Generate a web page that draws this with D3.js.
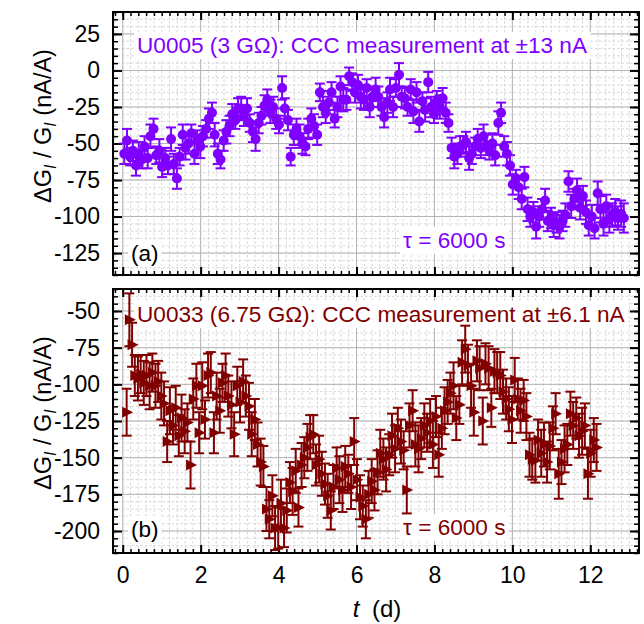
<!DOCTYPE html>
<html>
<head>
<meta charset="utf-8">
<title>CCC drift</title>
<script src="https://d3js.org/d3.v7.min.js"></script>
<style>
  body { margin: 0; background: #fff; }
  svg text { font-family: "Liberation Sans", Arial, sans-serif; }
  .grid-major { stroke: #b4b4b4; stroke-width: 1; }
  .grid-minor { stroke: #d6d6d6; stroke-width: 1; stroke-dasharray: 2.5,2; }
  .frame { fill: none; stroke: #000; stroke-width: 2; }
</style>
</head>
<body>
<script>
// panel (a): U0005
var tA = [0.04, 0.11, 0.19, 0.26, 0.34, 0.41, 0.49, 0.56, 0.64, 0.71,
  0.79, 0.86, 0.94, 1.01, 1.09, 1.16, 1.24, 1.31, 1.39, 1.46,
  1.54, 1.61, 1.69, 1.76, 1.84, 1.91, 1.99, 2.06, 2.14, 2.21,
  2.29, 2.36, 2.44, 2.51, 2.59, 2.66, 2.74, 2.81, 2.89, 2.96,
  3.04, 3.11, 3.19, 3.26, 3.34, 3.41, 3.49, 3.56, 3.64, 3.71,
  3.79, 3.86, 3.94, 4.01, 4.09, 4.16, 4.24, 4.31, 4.39, 4.46,
  4.54, 4.61, 4.69, 4.76, 4.84, 4.91, 4.99, 5.06, 5.14, 5.21,
  5.29, 5.36, 5.44, 5.51, 5.59, 5.66, 5.74, 5.81, 5.89, 5.96,
  6.04, 6.11, 6.19, 6.26, 6.34, 6.41, 6.49, 6.56, 6.64, 6.71,
  6.79, 6.86, 6.94, 7.01, 7.09, 7.16, 7.24, 7.31, 7.39, 7.46,
  7.54, 7.61, 7.69, 7.76, 7.84, 7.91, 7.99, 8.06, 8.14, 8.21,
  8.29, 8.36, 8.44, 8.51, 8.59, 8.66, 8.74, 8.81, 8.89, 8.96,
  9.04, 9.11, 9.19, 9.26, 9.34, 9.41, 9.49, 9.56, 9.64, 9.71,
  9.79, 9.86, 9.94, 10.01, 10.09, 10.16, 10.24, 10.31, 10.39, 10.46,
  10.54, 10.61, 10.69, 10.76, 10.84, 10.91, 10.99, 11.06, 11.14, 11.21,
  11.29, 11.36, 11.44, 11.51, 11.59, 11.66, 11.74, 11.81, 11.89, 11.96,
  12.04, 12.11, 12.19, 12.26, 12.34, 12.41, 12.49, 12.56, 12.64, 12.71,
  12.79, 12.86];
var vA = [-57, -48, -59, -55, -65, -57, -61, -52, -60, -45,
  -40, -58, -55, -66, -60, -65, -47, -64, -74, -59,
  -44, -53, -50, -43, -57, -48, -52, -45, -40, -33,
  -29, -44, -57, -61, -48, -42, -38, -30, -34, -26,
  -26, -31, -26, -36, -42, -47, -36, -31, -24, -20,
  -28, -25, -33, -37, -12, -26, -34, -59, -44, -40,
  -45, -50, -52, -40, -33, -38, -44, -15, -25, -29,
  -22, -15, -33, -25, -11, -20, -20, -4, -8, -15,
  -10, -18, -20, -12, -25, -18, -13, -18, -25, -32,
  -22, -13, -25, -12, -3, -18, -19, -25, -13, -28,
  -15, -35, -21, -27, -8, -25, -30, -21, -25, -19,
  -29, -36, -53, -59, -57, -52, -51, -49, -60, -57,
  -52, -47, -53, -45, -51, -55, -50, -58, -36, -29,
  -52, -57, -65, -78, -74, -80, -88, -73, -95, -100,
  -97, -107, -100, -95, -89, -103, -101, -106, -104, -107,
  -103, -99, -76, -93, -88, -82, -94, -86, -97, -106,
  -100, -108, -84, -95, -105, -93, -102, -99, -97, -101,
  -98, -101];
var eA = [7, 8, 6, 7, 7, 8, 6, 7, 7, 8,
  7, 6, 8, 7, 7, 6, 8, 7, 7, 6,
  7, 8, 7, 6, 7, 7, 8, 7, 6, 7,
  7, 8, 7, 6, 7, 8, 7, 7, 6, 7,
  8, 7, 7, 6, 7, 8, 7, 6, 7, 7,
  8, 7, 7, 6, 8, 7, 7, 6, 7, 7,
  8, 7, 6, 7, 7, 8, 7, 6, 7, 7,
  8, 7, 6, 7, 7, 8, 7, 6, 6, 7,
  7, 8, 7, 6, 7, 7, 8, 7, 6, 7,
  7, 8, 7, 6, 8, 7, 7, 6, 7, 8,
  7, 7, 6, 8, 7, 7, 6, 7, 8, 7,
  7, 6, 7, 8, 7, 7, 6, 7, 8, 7,
  6, 7, 7, 8, 7, 6, 7, 7, 8, 7,
  7, 8, 7, 7, 6, 8, 7, 7, 8, 7,
  7, 8, 7, 7, 8, 7, 7, 8, 7, 8,
  7, 8, 7, 8, 7, 8, 8, 7, 8, 7,
  8, 7, 8, 9, 8, 8, 9, 8, 9, 8,
  9, 10];

// panel (b): U0033
var tB = [0.10, 0.17, 0.24, 0.31, 0.39, 0.46, 0.54, 0.61, 0.69, 0.76,
  0.84, 0.91, 0.99, 1.06, 1.14, 1.21, 1.29, 1.36, 1.44, 1.51,
  1.59, 1.66, 1.74, 1.81, 1.89, 1.96, 2.04, 2.11, 2.19, 2.26,
  2.34, 2.41, 2.49, 2.56, 2.64, 2.71, 2.79, 2.86, 2.94, 3.01,
  3.09, 3.16, 3.24, 3.31, 3.39, 3.46, 3.54, 3.61, 3.69, 3.76,
  3.84, 3.91, 3.99, 4.06, 4.14, 4.21, 4.29, 4.36, 4.44, 4.51,
  4.59, 4.66, 4.74, 4.81, 4.89, 4.96, 5.04, 5.11, 5.19, 5.26,
  5.34, 5.41, 5.49, 5.56, 5.64, 5.71, 5.79, 5.86, 5.94, 6.01,
  6.09, 6.16, 6.24, 6.31, 6.39, 6.46, 6.54, 6.61, 6.69, 6.76,
  6.84, 6.91, 6.99, 7.06, 7.14, 7.21, 7.29, 7.36, 7.44, 7.51,
  7.59, 7.66, 7.74, 7.81, 7.89, 7.96, 8.04, 8.11, 8.19, 8.26,
  8.34, 8.41, 8.49, 8.56, 8.64, 8.71, 8.79, 8.86, 8.94, 9.01,
  9.09, 9.16, 9.24, 9.31, 9.39, 9.46, 9.54, 9.61, 9.69, 9.76,
  9.84, 9.91, 9.99, 10.06, 10.14, 10.21, 10.29, 10.36, 10.44, 10.51,
  10.59, 10.66, 10.74, 10.81, 10.89, 10.96, 11.04, 11.11, 11.19, 11.26,
  11.34, 11.41, 11.49, 11.56, 11.64, 11.71, 11.79, 11.86, 11.94, 12.01,
  12.09, 12.16];
var vB = [-119, -56, -73, -94, -96, -93, -99, -94, -101, -92,
  -101, -98, -108, -113, -139, -118, -128, -116, -135, -123,
  -132, -126, -155, -110, -101, -133, -101, -124, -94, -92,
  -133, -108, -118, -99, -94, -108, -114, -134, -101, -112,
  -98, -108, -115, -134, -124, -141, -153, -156, -185, -192,
  -176, -198, -198, -181, -198, -186, -167, -173, -159, -184,
  -155, -150, -143, -136, -134, -155, -151, -161, -168, -176,
  -186, -170, -157, -165, -172, -156, -161, -170, -139, -165,
  -177, -183, -192, -175, -166, -172, -160, -147, -151, -158,
  -148, -135, -144, -130, -139, -145, -172, -128, -118, -141,
  -144, -137, -128, -133, -125, -141, -122, -148, -130, -118,
  -112, -106, -101, -123, -114, -85, -76, -87, -101, -119,
  -84, -89, -125, -86, -89, -116, -91, -92, -94, -105,
  -110, -117, -124, -97, -110, -118, -111, -122, -148, -151,
  -152, -138, -147, -141, -153, -142, -130, -120, -161, -153,
  -144, -141, -120, -128, -123, -135, -132, -128, -161, -147,
  -138, -143];
var eB = [16, 18, 15, 14, 15, 13, 15, 14, 16, 13,
  15, 14, 16, 15, 14, 16, 13, 15, 14, 16,
  15, 13, 16, 14, 15, 14, 16, 13, 15, 14,
  14, 16, 15, 13, 15, 14, 16, 15, 13, 14,
  15, 14, 16, 15, 14, 15, 16, 14, 15, 13,
  14, 15, 14, 16, 13, 15, 14, 16, 15, 13,
  15, 14, 16, 15, 13, 14, 16, 15, 14, 15,
  13, 15, 14, 16, 15, 14, 13, 15, 16, 14,
  15, 14, 13, 16, 15, 14, 15, 16, 14, 15,
  14, 15, 16, 14, 15, 13, 16, 15, 14, 15,
  16, 14, 15, 13, 15, 16, 14, 15, 14, 16,
  15, 14, 16, 15, 13, 15, 16, 14, 15, 16,
  14, 15, 16, 14, 15, 13, 15, 14, 16, 15,
  14, 15, 16, 15, 14, 15, 14, 16, 15, 14,
  15, 14, 16, 15, 14, 16, 15, 14, 17, 15,
  16, 14, 15, 16, 14, 15, 16, 15, 17, 16,
  15, 16];

var xTicks = [0, 2, 4, 6, 8, 10, 12];
var yTicksA = [25, 0, -25, -50, -75, -100, -125];
var yTicksB = [-50, -75, -100, -125, -150, -175, -200];

var svg = d3.select("body").append("svg")
    .attr("width", 644)
    .attr("height", 624);

var x = d3.scaleLinear().domain([-0.25, 13.25]).range([113, 639]);
var xMinor = d3.range(-1, 67).map(k => k / 5);

var panels = [
  { y0: 12, y1: 275, dom: [-140, 40], t: tA, v: vA, e: eA, col: "#7f00ff", ticks: yTicksA, shape: "circle",
    title: "U0005 (3 G\u03a9): CCC measurement at \u00b113 nA", titleY: 53, tag: "(a)", tagY: 261, tauY: 248, labY: 126 },
  { y0: 289, y1: 553, dom: [-215, -35], t: tB, v: vB, e: eB, col: "#800000", ticks: yTicksB, shape: "tri",
    title: "U0033 (6.75 G\u03a9): CCC measurement at \u00b16.1 nA", titleY: 322, tag: "(b)", tagY: 537, tauY: 535, labY: 413 }
];

function boxedText(g, tx, ty, str, col) {
  var t = g.append("text")
      .attr("x", tx).attr("y", ty)
      .style("font-size", "22.6px")
      .attr("fill", col)
      .text(str);
  var b = t.node().getBBox();
  g.insert("rect", function() { return t.node(); })
      .attr("x", b.x - 3).attr("y", b.y - 1)
      .attr("width", b.width + 6).attr("height", b.height + 2)
      .attr("fill", "#fff");
}

panels.forEach(function(p, i) {
  var y = d3.scaleLinear().domain(p.dom).range([p.y1, p.y0]);
  var yMinor = d3.range(Math.ceil(p.dom[0] / 5), Math.floor(p.dom[1] / 5) + 1).map(k => k * 5);
  var g = svg.append("g");

  // grid
  g.selectAll(".gmx").data(xMinor.filter(d => d > -0.25 && d < 13.25)).enter().append("line")
      .attr("class", "grid-minor")
      .attr("x1", d => x(d)).attr("x2", d => x(d))
      .attr("y1", p.y0).attr("y2", p.y1);
  g.selectAll(".gmy").data(yMinor).enter().append("line")
      .attr("class", "grid-minor")
      .attr("x1", 113).attr("x2", 639)
      .attr("y1", d => y(d)).attr("y2", d => y(d));
  g.selectAll(".gMx").data(xTicks).enter().append("line")
      .attr("class", "grid-major")
      .attr("x1", d => x(d)).attr("x2", d => x(d))
      .attr("y1", p.y0).attr("y2", p.y1);
  g.selectAll(".gMy").data(p.ticks).enter().append("line")
      .attr("class", "grid-major")
      .attr("x1", 113).attr("x2", 639)
      .attr("y1", d => y(d)).attr("y2", d => y(d));

  // text labels with white boxes
  var lg = g.append("g");
  boxedText(lg, 137, p.titleY, p.title, p.col);
  boxedText(lg, 131, p.tagY, p.tag, "#000");
  boxedText(lg, 403, p.tauY, "\u03c4 = 6000 s", p.col);

  // axes: ticks inward on all four sides
  function styleAxis(sel, w) {
    sel.select(".domain").remove();
    sel.selectAll("line").attr("stroke-width", w);
    sel.selectAll("text").style("font-size", "23px").attr("fill", "#000");
  }
  g.append("g").attr("transform", "translate(0," + p.y1 + ")")
      .call(d3.axisBottom(x).tickValues(xMinor).tickSize(-4).tickFormat(""))
      .call(styleAxis, 1.5);
  g.append("g").attr("transform", "translate(0," + p.y0 + ")")
      .call(d3.axisTop(x).tickValues(xMinor).tickSize(-4).tickFormat(""))
      .call(styleAxis, 1.5);
  g.append("g").attr("transform", "translate(0," + p.y1 + ")")
      .call(d3.axisBottom(x).tickValues(xTicks).tickSize(-8).tickPadding(14)
        .tickFormat(i === 1 ? d => String(d) : ""))
      .call(styleAxis, 2);
  g.append("g").attr("transform", "translate(0," + p.y0 + ")")
      .call(d3.axisTop(x).tickValues(xTicks).tickSize(-8).tickFormat(""))
      .call(styleAxis, 2);

  g.append("g").attr("transform", "translate(113,0)")
      .call(d3.axisLeft(y).tickValues(yMinor).tickSize(-5).tickFormat(""))
      .call(styleAxis, 1.5);
  g.append("g").attr("transform", "translate(639,0)")
      .call(d3.axisRight(y).tickValues(yMinor).tickSize(-5).tickFormat(""))
      .call(styleAxis, 1.5);
  g.append("g").attr("transform", "translate(113,0)")
      .call(d3.axisLeft(y).tickValues(p.ticks).tickSize(-9).tickPadding(13).tickFormat(d => String(d)))
      .call(styleAxis, 2);
  g.append("g").attr("transform", "translate(639,0)")
      .call(d3.axisRight(y).tickValues(p.ticks).tickSize(-9).tickFormat(""))
      .call(styleAxis, 2);

  g.append("rect").attr("class", "frame")
      .attr("x", 113).attr("y", p.y0)
      .attr("width", 639 - 113).attr("height", p.y1 - p.y0);

  // data: error bars then markers
  var pts = p.t.map((t, k) => ({ t: t, v: p.v[k], e: p.e[k] }));
  var eb = g.append("g").attr("stroke", p.col).attr("stroke-width", 2);
  pts.forEach(function(d) {
    var cx = x(d.t), ya = y(d.v + d.e), yb = y(d.v - d.e);
    eb.append("line").attr("x1", cx).attr("x2", cx).attr("y1", ya).attr("y2", yb);
    eb.append("line").attr("x1", cx - 5).attr("x2", cx + 5).attr("y1", ya).attr("y2", ya);
    eb.append("line").attr("x1", cx - 5).attr("x2", cx + 5).attr("y1", yb).attr("y2", yb);
  });
  var mk = g.append("g").attr("fill", p.col);
  if (p.shape === "circle") {
    mk.selectAll("circle").data(pts).enter().append("circle")
        .attr("cx", d => x(d.t)).attr("cy", d => y(d.v)).attr("r", 5);
  } else {
    mk.selectAll("path").data(pts).enter().append("path")
        .attr("d", "M-4.5,-5.5L6.5,0L-4.5,5.5Z")
        .attr("transform", d => "translate(" + x(d.t) + "," + y(d.v) + ")");
  }

  // y label
  var lab = svg.append("text")
      .attr("transform", "translate(51," + p.labY + ") rotate(-90)")
      .attr("text-anchor", "middle")
      .style("font-size", "23.5px");
  lab.append("tspan").text("\u0394G");
  lab.append("tspan").attr("font-style", "italic").style("font-size", "16px").attr("dy", 5).text("I");
  lab.append("tspan").attr("dy", -5).text(" / G");
  lab.append("tspan").attr("font-style", "italic").style("font-size", "16px").attr("dy", 5).text("I");
  lab.append("tspan").attr("dy", -5).text(" (nA/A)");
});

var xl = svg.append("text")
    .attr("x", 377).attr("y", 617)
    .attr("text-anchor", "middle")
    .style("font-size", "24px");
xl.append("tspan").attr("font-style", "italic").text("t");
xl.append("tspan").attr("dx", 6).text(" (d)");
</script>
</body>
</html>
